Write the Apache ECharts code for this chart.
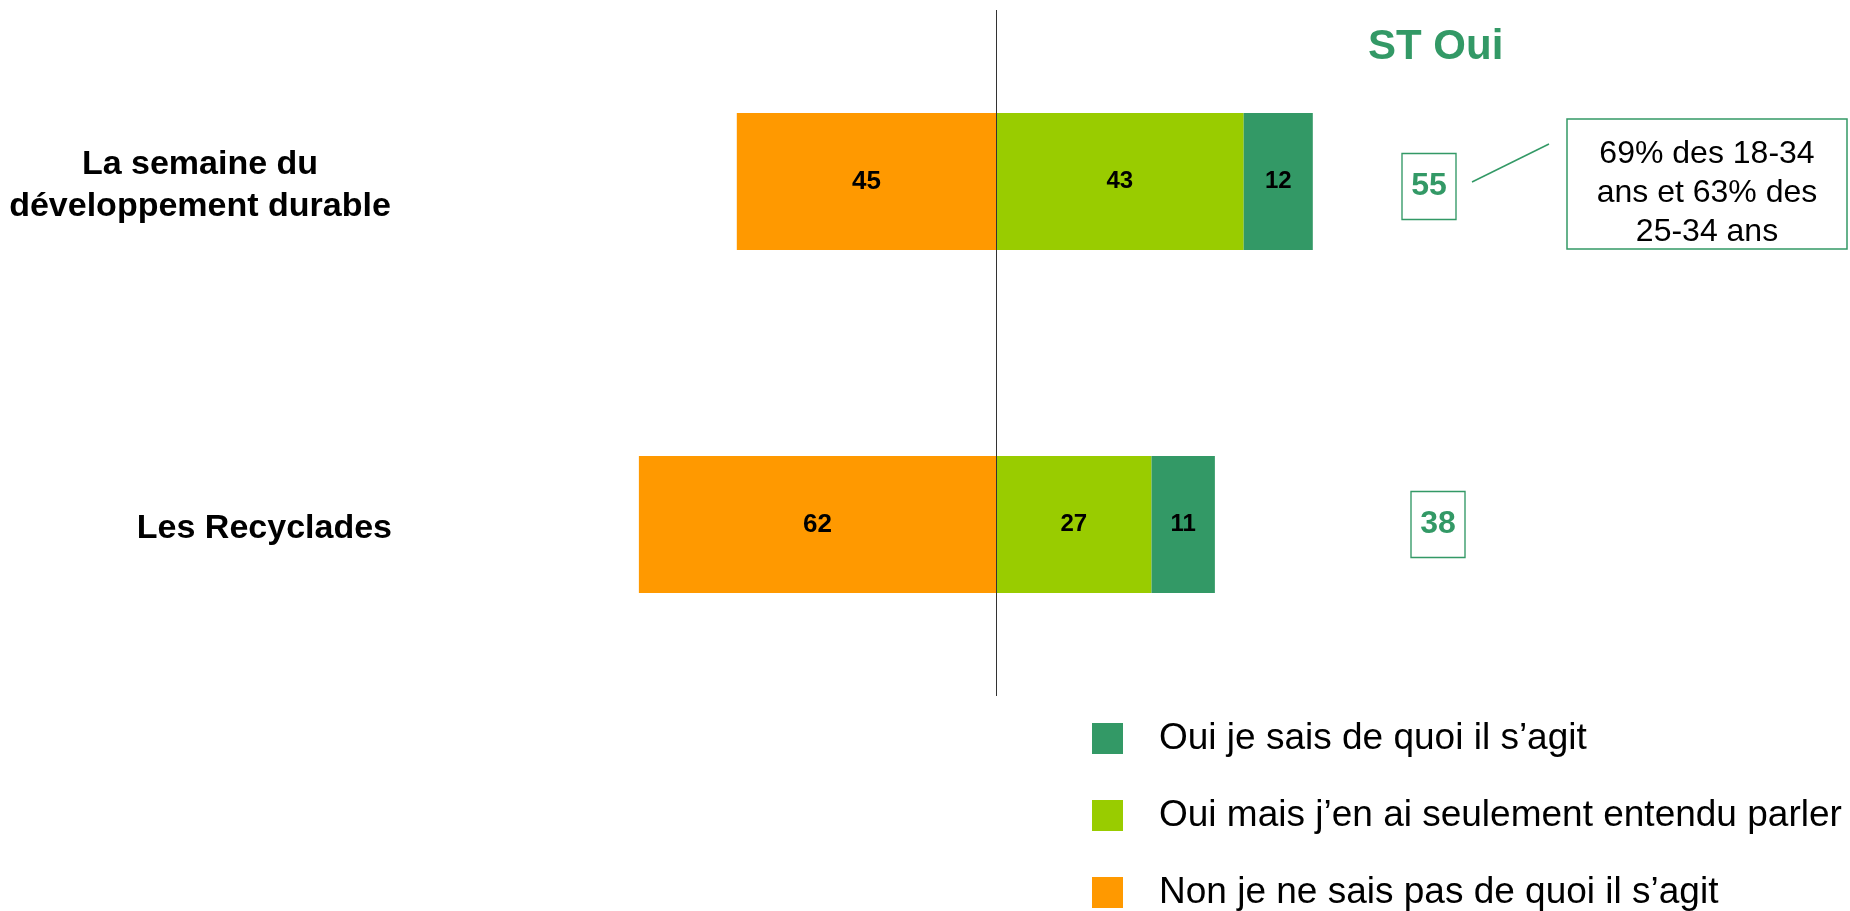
<!DOCTYPE html>
<html><head><meta charset="utf-8">
<script src="https://cdn.jsdelivr.net/npm/echarts@6/dist/echarts.min.js"></script>
<style>html,body{margin:0;padding:0;background:#fff}#c{width:1850px;height:911px}</style>
</head><body><div id="c"></div>
<script>
const categories = ['La semaine du développement durable', 'Les Recyclades'];
const nonValues = [45, 62];
const ouiEntenduValues = [43, 27];
const ouiSaisValues = [12, 11];
const stOuiValues = [55, 38];
const seriesNames = ['Oui je sais de quoi il s’agit', 'Oui mais j’en ai seulement entendu parler', 'Non je ne sais pas de quoi il s’agit'];
const stOuiTitle = 'ST Oui';
const noteText = '69% des 18-34\nans et 63% des\n25-34 ans';

const FONT = 'Arial, "Liberation Sans", sans-serif';
const C_DARK = '#339966', C_LIGHT = '#99CC00', C_ORANGE = '#FF9900';
const boxOffsets = [[-5, 5], [4, 0]];

const chart = echarts.init(document.getElementById('c'));
const barLabel = (size) => ({
  show: true, position: 'inside', color: '#000', fontWeight: 'bold',
  fontFamily: FONT, fontSize: size, formatter: p => Math.abs(p.value)
});
chart.setOption({
  animation: false,
  title: { text: stOuiTitle, left: 1363, top: 21,
    textStyle: { color: C_DARK, fontSize: 42, fontWeight: 'bold', fontFamily: FONT } },
  legend: {
    orient: 'vertical', left: 1092, top: 720, padding: 0, itemWidth: 31, itemHeight: 31, itemGap: 40,
    icon: 'rect', data: seriesNames,
    textStyle: { fontSize: 37, lineHeight: 31, fontFamily: FONT, color: '#000', padding: [0, 0, 0, 31] }
  },
  grid: [
    { left: 420, right: 278, top: 10, bottom: 215 },
    { left: 1404, width: 60, top: 10, bottom: 215 }
  ],
  xAxis: [
    { gridIndex: 0, type: 'value', min: -100, max: 100, show: false },
    { gridIndex: 1, type: 'category', data: [stOuiTitle], show: false }
  ],
  yAxis: [
    { gridIndex: 0, type: 'category', data: categories, inverse: true,
      axisLine: { show: false, onZero: false }, axisTick: { show: false },
      axisLabel: {
        margin: 28,
        formatter: v => v === categories[0]
          ? '{a|La semaine du}\n{a|développement durable}'
          : '{b|' + v + '}',
        rich: {
          a: { width: 384, align: 'center', fontSize: 34, fontWeight: 'bold', fontFamily: FONT, color: '#000', lineHeight: 42, padding: [8, 0, 0, 0] },
          b: { fontSize: 34, fontWeight: 'bold', fontFamily: FONT, color: '#000', padding: [8, 0, 0, 0] }
        }
      } },
    { gridIndex: 1, type: 'category', data: categories, inverse: true, show: false }
  ],
  series: [
    { name: seriesNames[2], type: 'bar', stack: 'a', barWidth: '40%', data: nonValues.map(v => -v),
      itemStyle: { color: C_ORANGE }, label: barLabel(26),
      markLine: { silent: true, symbol: 'none', label: { show: false },
        lineStyle: { color: '#333', width: 1, type: 'solid' }, data: [{ xAxis: 0 }] } },
    { name: seriesNames[1], type: 'bar', stack: 'a', barWidth: '40%', data: ouiEntenduValues,
      itemStyle: { color: C_LIGHT }, label: barLabel(24) },
    { name: seriesNames[0], type: 'bar', stack: 'a', barWidth: '40%', data: ouiSaisValues,
      itemStyle: { color: C_DARK }, label: barLabel(24) },
    { type: 'scatter', xAxisIndex: 1, yAxisIndex: 1, symbol: 'rect', symbolSize: [54, 66],
      data: stOuiValues.map((v, i) => ({ value: [stOuiTitle, categories[i], v], symbolOffset: boxOffsets[i] })),
      encode: { x: 0, y: 1 },
      itemStyle: { color: '#fff', borderColor: C_DARK, borderWidth: 1.5, opacity: 1 },
      label: { show: true, position: 'inside', formatter: p => p.value[2], color: C_DARK,
        fontSize: 32, fontWeight: 'bold', fontFamily: FONT } }
  ],
  graphic: [
    { type: 'line', shape: { x1: 1472, y1: 182, x2: 1549, y2: 144 }, style: { stroke: C_DARK, lineWidth: 1.5 } },
    { type: 'rect', shape: { x: 1567, y: 119, width: 280, height: 130 },
      style: { fill: '#fff', stroke: C_DARK, lineWidth: 1.5 } },
    { type: 'text', x: 1707, y: 193,
      style: { text: noteText, fill: '#000', font: '32px ' + FONT, align: 'center', verticalAlign: 'middle', lineHeight: 39 } }
  ]
});
</script></body></html>
